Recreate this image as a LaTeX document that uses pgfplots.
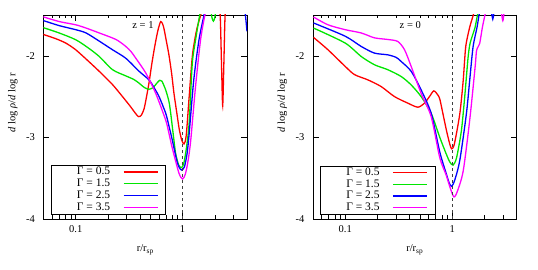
\documentclass[border=0pt]{standalone}
\usepackage{fontspec}
\setmainfont{Liberation Serif}
\usepackage{pgfplots}
\pgfplotsset{compat=1.18}
\definecolor{cR}{RGB}{255,0,0}
\definecolor{cG}{RGB}{0,230,0}
\definecolor{cB}{RGB}{0,0,255}
\definecolor{cM}{RGB}{255,0,255}
\pgfplotsset{
  every axis/.append style={
  xmode=log, scale only axis, width=203.5pt, height=204pt,
  xmin=0.05, xmax=4, ymin=-4, ymax=-1.5,
  xtick={0.1,1}, xticklabels={0.1,1},
  minor xtick={0.05,0.06,0.07,0.08,0.09,0.2,0.3,0.4,0.5,0.6,0.7,0.8,0.9,2,3,4},
  ytick={-4,-3,-2}, yticklabels={-4,-3,-2},
  major tick length=6pt, minor tick length=3.5pt,
  tick style={black, line width=0.5pt},
  axis line style={line width=0.6pt},
  font=\fontsize{10.5}{12}\selectfont,
  xticklabel style={yshift=-3pt},
  yticklabel style={xshift=-5pt},
  xlabel={r/r\textsubscript{sp}},
  ylabel={\textit{d} log \textit{ρ}/\textit{d} log r},
  xlabel style={at={(axis description cs:0.5,-0.152)}, anchor=center},
  ylabel style={at={(axis description cs:-0.151,0.571)}, anchor=center},
  legend plot pos=right,
  legend cell align=right,
  legend style={draw=black, fill=white, inner xsep=0pt, inner ysep=1.3pt,
     row sep=1.8pt, anchor=south west, font=\fontsize{11.5}{13}\selectfont,
     nodes={inner sep=0pt, text height=7.8pt, text depth=2.2pt},
     /tikz/every odd column/.append style={column sep=12.7pt}},
  },
  cur/.style={line width=1.3pt, smooth, tension=0.45},
}
\pgfplotsset{legend image code/.code={\draw[#1] (0pt,0pt) -- (34pt,0pt); \path (41.3pt,0pt);}}
\newcommand{\legtxt}[1]{\makebox[59pt][r]{Γ = #1}}
\begin{document}
\begin{tikzpicture}
\useasboundingbox (0,0) rectangle (538pt,270pt);
% ---------------- z = 1 ----------------
\begin{axis}[at={(43.5pt,51pt)}, anchor=south west,
  legend style={at={(0.0369,0.025)}}]
\addplot[cur, cR] coordinates {(0.049,-1.735)(0.065,-1.79)(0.081,-1.845)(0.1,-1.926)(0.13,-2.06)(0.166,-2.19)(0.22,-2.35)(0.274,-2.50)(0.32,-2.61)(0.36,-2.70)(0.386,-2.745)(0.41,-2.73)(0.436,-2.65)(0.46,-2.50)(0.485,-2.33)(0.515,-2.10)(0.541,-1.93)(0.57,-1.77)(0.595,-1.66)(0.624,-1.58)(0.65,-1.61)(0.67,-1.67)(0.70,-1.80)(0.745,-1.99)(0.79,-2.22)(0.83,-2.46)(0.887,-2.72)(0.93,-2.90)(0.98,-3.03)(1.03,-3.08)(1.08,-2.98)(1.15,-2.51)(1.23,-2.016)(1.30,-1.80)(1.37,-1.65)(1.47,-1.51)(1.55,-1.4)};
\addplot[cur, cG] coordinates {(0.049,-1.652)(0.07,-1.72)(0.1,-1.803)(0.13,-1.90)(0.166,-2.008)(0.221,-2.17)(0.294,-2.246)(0.35,-2.29)(0.392,-2.336)(0.44,-2.39)(0.485,-2.41)(0.53,-2.39)(0.57,-2.34)(0.61,-2.30)(0.64,-2.31)(0.695,-2.42)(0.745,-2.56)(0.773,-2.70)(0.82,-2.98)(0.861,-3.20)(0.92,-3.34)(0.97,-3.37)(1.02,-3.33)(1.08,-3.15)(1.15,-2.83)(1.23,-2.10)(1.32,-1.81)(1.44,-1.51)(1.5,-1.4)};
\addplot[cur, cB] coordinates {(0.049,-1.565)(0.07,-1.63)(0.1,-1.68)(0.125,-1.72)(0.166,-1.82)(0.221,-1.926)(0.294,-2.03)(0.392,-2.19)(0.485,-2.295)(0.54,-2.39)(0.602,-2.50)(0.695,-2.705)(0.745,-2.86)(0.80,-3.03)(0.88,-3.28)(0.93,-3.37)(0.98,-3.40)(1.04,-3.36)(1.10,-3.20)(1.15,-2.96)(1.27,-2.30)(1.42,-1.81)(1.58,-1.51)(1.65,-1.4)};
\addplot[cur, cM] coordinates {(0.049,-1.52)(0.07,-1.58)(0.1,-1.62)(0.125,-1.66)(0.166,-1.72)(0.238,-1.80)(0.294,-1.885)(0.33,-1.95)(0.365,-2.03)(0.452,-2.21)(0.56,-2.46)(0.695,-2.79)(0.745,-2.95)(0.80,-3.13)(0.925,-3.44)(1.0,-3.51)(1.06,-3.45)(1.12,-3.30)(1.19,-3.04)(1.32,-2.38)(1.47,-1.81)(1.61,-1.51)(1.7,-1.4)};
\addplot[cur, cR, forget plot] coordinates {(2.22,-1.4)(2.26,-1.6)(2.32,-2.2)(2.37,-2.61)(2.43,-2.1)(2.48,-1.6)(2.52,-1.4)};
\addplot[cur, cG, forget plot] coordinates {(1.82,-1.4)(1.88,-1.53)(1.94,-1.575)(2.0,-1.53)(2.06,-1.4)};
\addplot[cur, cB, forget plot] coordinates {(3.8,-1.4)(3.9,-1.55)(4.0,-1.70)};
\addplot[forget plot, black!75, dashed, line width=0.8pt] coordinates {(1,-4)(1,-1.5)};
\node at (axis cs:0.426,-1.62) {z = 1};
\legend{\legtxt{0.5},\legtxt{1.5},\legtxt{2.5},\legtxt{3.5}}
\end{axis}
% ---------------- z = 0 ----------------
\begin{axis}[at={(313pt,51pt)}, anchor=south west,
  legend style={at={(0.036,0.023)}}]
\addplot[cur, cR] coordinates {(0.0506,-1.775)(0.069,-1.926)(0.1,-2.13)(0.122,-2.23)(0.163,-2.295)(0.217,-2.377)(0.289,-2.50)(0.385,-2.58)(0.478,-2.63)(0.551,-2.58)(0.614,-2.50)(0.674,-2.43)(0.735,-2.48)(0.767,-2.53)(0.819,-2.705)(0.887,-2.92)(0.95,-3.08)(0.99,-3.14)(1.05,-3.08)(1.18,-2.71)(1.27,-2.30)(1.34,-1.89)(1.46,-1.65)(1.57,-1.51)(1.65,-1.4)};
\addplot[cur, cG] coordinates {(0.0506,-1.66)(0.1,-1.844)(0.141,-2.008)(0.188,-2.11)(0.25,-2.17)(0.334,-2.254)(0.414,-2.357)(0.513,-2.50)(0.637,-2.705)(0.767,-3.0)(0.879,-3.2)(0.95,-3.30)(1.02,-3.34)(1.1,-3.25)(1.22,-2.92)(1.31,-2.51)(1.41,-2.02)(1.47,-1.85)(1.55,-1.75)(1.64,-1.65)(1.72,-1.51)(1.8,-1.4)};
\addplot[cur, cB] coordinates {(0.0506,-1.598)(0.1,-1.76)(0.141,-1.885)(0.188,-1.967)(0.25,-1.988)(0.30,-2.02)(0.334,-2.07)(0.414,-2.19)(0.513,-2.418)(0.637,-2.705)(0.767,-3.18)(0.879,-3.44)(0.94,-3.56)(0.99,-3.60)(1.06,-3.52)(1.18,-3.28)(1.36,-2.71)(1.46,-2.30)(1.57,-1.89)(1.71,-1.65)(1.78,-1.51)(1.85,-1.4)};
\addplot[cur, cM] coordinates {(0.0506,-1.525)(0.069,-1.62)(0.1,-1.68)(0.141,-1.72)(0.188,-1.78)(0.25,-1.80)(0.31,-1.824)(0.359,-1.926)(0.414,-2.13)(0.513,-2.46)(0.637,-2.746)(0.767,-3.25)(0.879,-3.46)(0.96,-3.62)(1.04,-3.73)(1.12,-3.66)(1.27,-3.41)(1.46,-2.79)(1.64,-2.14)(1.69,-1.94)(1.75,-1.89)(1.81,-1.85)(1.92,-1.65)(2.02,-1.51)(2.1,-1.4)};
\addplot[cur, cB, forget plot] coordinates {(2.3,-1.4)(2.4,-1.55)(2.5,-1.4)};
\addplot[cur, cM, forget plot] coordinates {(2.85,-1.4)(2.98,-1.57)(3.1,-1.4)};
\addplot[forget plot, black!75, dashed, line width=0.8pt] coordinates {(1,-4)(1,-1.5)};
\node at (axis cs:0.406,-1.62) {z = 0};
\legend{\legtxt{0.5},\legtxt{1.5},\legtxt{2.5},\legtxt{3.5}}
\end{axis}
\end{tikzpicture}
\end{document}
